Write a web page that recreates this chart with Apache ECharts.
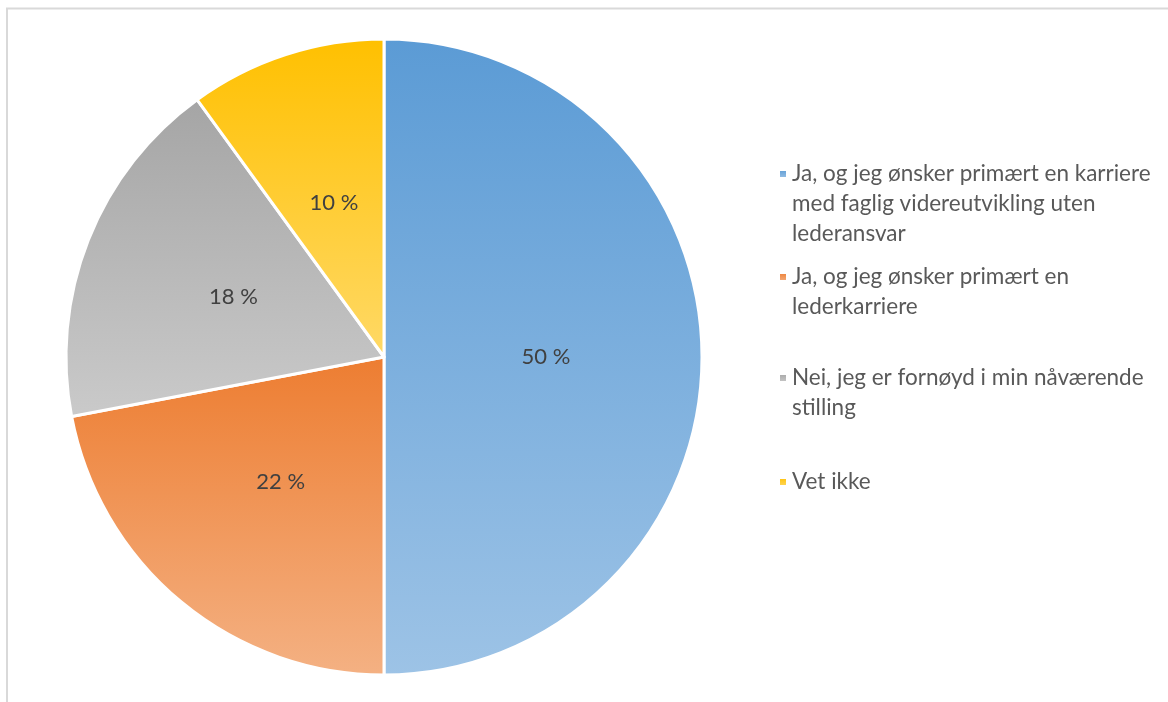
<!DOCTYPE html>
<html>
<head>
<meta charset="utf-8">
<script src="https://cdn.jsdelivr.net/npm/echarts@6/dist/echarts.min.js"></script>
<style>
  html, body { margin: 0; padding: 0; background: #ffffff; }
  #chart { width: 1168px; height: 702px; }
</style>
</head>
<body>
<div id="chart"></div>
<script>
// Survey answers and their shares (percent)
const categories = [
  'Ja, og jeg ønsker primært en karriere med faglig videreutvikling uten lederansvar',
  'Ja, og jeg ønsker primært en lederkarriere',
  'Nei, jeg er fornøyd i min nåværende stilling',
  'Vet ikke'
];
const shares = [50, 22, 18, 10];

// Legend text, broken into lines the way it is laid out beside the pie
const legendLines = [
  ['Ja, og jeg ønsker primært en karriere', 'med faglig videreutvikling uten', 'lederansvar'],
  ['Ja, og jeg ønsker primært en', 'lederkarriere'],
  ['Nei, jeg er fornøyd i min nåværende', 'stilling'],
  ['Vet ikke']
];

// Top and bottom colours of each slice's vertical gradient
const sliceColors = [
  ['#5B9BD5', '#9DC3E6'],
  ['#ED7D31', '#F4B183'],
  ['#A5A5A5', '#CACACA'],
  ['#FFC000', '#FFD966']
];

const FONT = 'Lato';
const LINE_H = 30;
const legendCenters = [174, 277, 378, 482];

const chart = echarts.init(document.getElementById('chart'), null, { renderer: 'canvas' });

const pieData = categories.map((name, i) => ({
  name: name,
  value: shares[i],
  itemStyle: {
    color: {
      type: 'linear', x: 0, y: 0, x2: 0, y2: 1,
      colorStops: [
        { offset: 0, color: sliceColors[i][0] },
        { offset: 1, color: sliceColors[i][1] }
      ]
    }
  }
}));

// One legend block per answer so each can sit at its own height.
// Legend text is centred on its marker, so blank lines are put in front
// to bring the first text line level with the marker.
const legends = categories.map((name, i) => {
  const n = legendLines[i].length;
  const blanks = new Array(n - 1).fill(' ');
  return {
    data: [name],
    left: 778,
    top: legendCenters[i] - (2 * n - 1) * LINE_H / 2,
    padding: 0,
    itemWidth: 8,
    itemHeight: 8,
    icon: 'rect',
    selectedMode: false,
    formatter: () => blanks.concat(legendLines[i]).join('\n'),
    textStyle: {
      fontFamily: FONT,
      fontSize: 22.5,
      color: '#595959',
      lineHeight: LINE_H
    }
  };
});

chart.setOption({
  animation: false,
  backgroundColor: '#ffffff',
  legend: legends,
  graphic: [{
    type: 'rect',
    shape: { x: 7, y: 8.5, width: 1300, height: 800 },
    style: { fill: 'none', stroke: '#D9D9D9', lineWidth: 2 },
    silent: true,
    z: -10
  }],
  series: [{
    type: 'pie',
    center: [384, 357],
    radius: [0, 318],
    startAngle: 90,
    clockwise: true,
    avoidLabelOverlap: false,
    data: pieData,
    itemStyle: { borderColor: '#ffffff', borderWidth: 3 },
    label: {
      show: true,
      position: 'inside',
      formatter: p => p.value + ' %',
      fontFamily: FONT,
      fontSize: 22,
      color: '#404040'
    },
    labelLine: { show: false },
    emphasis: { disabled: true }
  }]
});
</script>
</body>
</html>
